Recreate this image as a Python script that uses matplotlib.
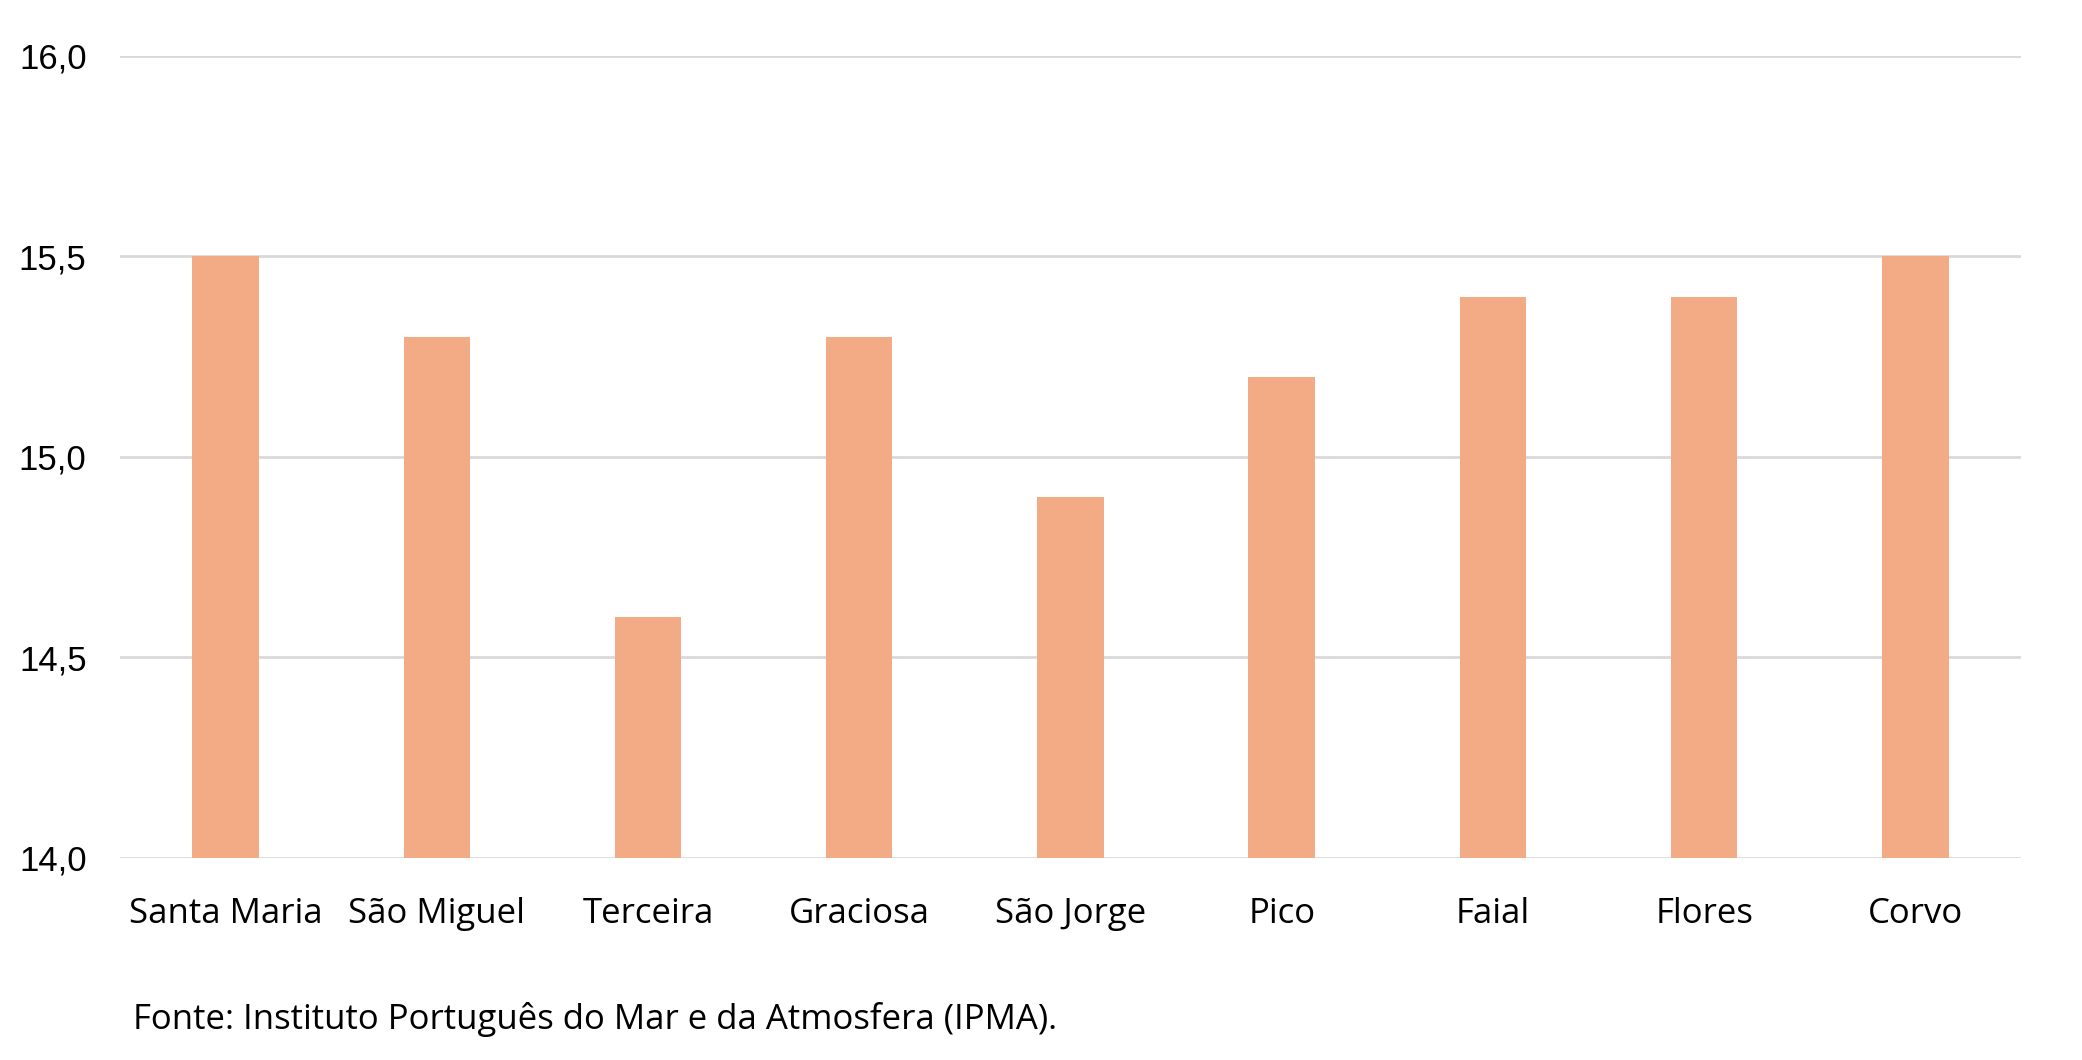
import matplotlib.pyplot as plt

ilhas = ['Santa Maria', 'São Miguel', 'Terceira', 'Graciosa', 'São Jorge',
         'Pico', 'Faial', 'Flores', 'Corvo']
temperatura = [15.5, 15.3, 14.6, 15.3, 14.9, 15.2, 15.4, 15.4, 15.5]
yticks = [14.0, 14.5, 15.0, 15.5, 16.0]
ytick_labels = ['14,0', '14,5', '15,0', '15,5', '16,0']
fonte = 'Fonte: Instituto Português do Mar e da Atmosfera (IPMA).'

fig = plt.figure(figsize=(20.82, 10.60), dpi=100)
ax = fig.add_axes([0.0576, 0.1906, 0.9131, 0.7566])

x = range(len(ilhas))
ax.bar(x, [t - 14.0 for t in temperatura], bottom=14.0, width=0.315,
       color='#F2AB84', zorder=2)

ax.set_xlim(-0.5, len(ilhas) - 0.5)
ax.set_ylim(14.0, 16.0)
ax.set_yticks(yticks)
ax.set_yticklabels(ytick_labels, family='Liberation Sans', fontsize=25)
ax.set_xticks(list(x))
ax.set_xticklabels(ilhas, family='Open Sans', fontsize=25)

ax.grid(axis='y', color='#D9D9D9', linewidth=2, zorder=0)
ax.set_axisbelow(True)
for s in ax.spines.values():
    s.set_visible(False)
ax.tick_params(axis='both', length=0)
ax.tick_params(axis='y', pad=24)
ax.tick_params(axis='x', pad=28)

fig.text(0.0638, 0.038, fonte, family='Open Sans', fontsize=25, va='center')

plt.savefig('out.png', dpi=100)
